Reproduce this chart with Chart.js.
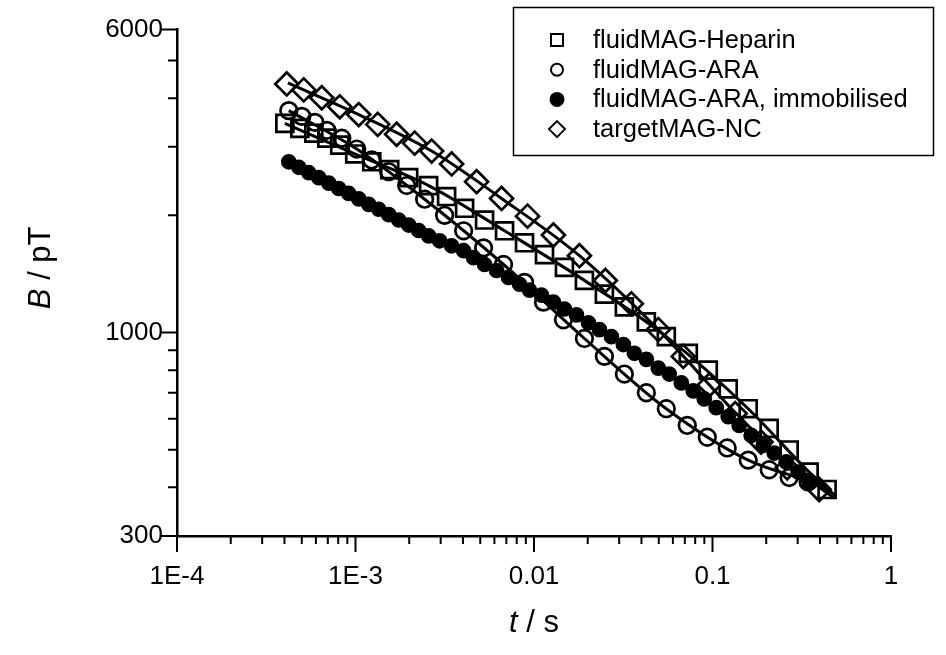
<!DOCTYPE html>
<html>
<head>
<meta charset="utf-8">
<script src="https://cdn.jsdelivr.net/npm/chart.js"></script>
<style>
  html, body { margin: 0; padding: 0; background: #fff; }
  canvas { display: block; }
</style>
</head>
<body>
<canvas id="relaxChart" width="946" height="655"></canvas>
<script>
// Tick positions and labels
const xTickValues = [0.0001, 0.0002, 0.0003, 0.0004, 0.0005, 0.0006, 0.0007, 0.0008, 0.0009,
  0.001, 0.002, 0.003, 0.004, 0.005, 0.006, 0.007, 0.008, 0.009,
  0.01, 0.02, 0.03, 0.04, 0.05, 0.06, 0.07, 0.08, 0.09,
  0.1, 0.2, 0.3, 0.4, 0.5, 0.6, 0.7, 0.8, 0.9, 1];
const xMajorValues = [0.0001, 0.001, 0.01, 0.1, 1];
const xMajorLabels = ['1E-4', '1E-3', '0.01', '0.1', '1'];

const yTickValues = [300, 400, 500, 600, 700, 800, 900, 1000, 2000, 3000, 4000, 5000, 6000];
const yMajorValues = [300, 1000, 6000];
const yMajorLabels = ['300', '1000', '6000'];

// Series names
const seriesNames = ['fluidMAG-Heparin', 'fluidMAG-ARA', 'fluidMAG-ARA, immobilised', 'targetMAG-NC'];

// fluidMAG-Heparin (squares)
const heparinT = [4.02e-4, 4.88e-4, 5.84e-4, 6.91e-4, 8.16e-4, 9.90e-4, 1.233e-3, 1.555e-3, 1.986e-3, 2.569e-3,
  3.239e-3, 4.086e-3, 5.285e-3, 6.84e-3, 8.85e-3, 1.145e-2, 1.481e-2, 1.916e-2, 2.479e-2, 3.208e-2,
  4.26e-2, 5.51e-2, 7.32e-2, 9.47e-2, 0.1225, 0.1585, 0.2077, 0.2688, 0.3478, 0.4385];
const heparinB = [3445, 3345, 3250, 3156, 3030, 2875, 2745, 2620, 2500, 2385,
  2235, 2085, 1945, 1825, 1700, 1585, 1470, 1361, 1255, 1163,
  1065, 976, 884, 800, 716, 637, 567, 499, 438, 395];

// fluidMAG-ARA (open circles)
const araT = [4.23e-4, 5.005e-4, 5.92e-4, 6.91e-4, 8.38e-4, 1.016e-3, 1.233e-3, 1.535e-3, 1.935e-3, 2.44e-3,
  3.157e-3, 4.034e-3, 5.218e-3, 6.75e-3, 8.85e-3, 1.13e-2, 1.462e-2, 1.916e-2, 2.479e-2, 3.208e-2,
  4.26e-2, 5.51e-2, 7.22e-2, 9.35e-2, 0.1209, 0.1585, 0.2077, 0.2688, 0.3433];
const araB = [3715, 3590, 3465, 3305, 3156, 2960, 2775, 2590, 2385, 2200,
  2000, 1825, 1650, 1495, 1345, 1197, 1078, 965, 868, 782,
  700, 637, 577, 538, 505, 470, 444, 424, 413];

// fluidMAG-ARA, immobilised (filled circles)
const immobT = [4.23e-4, 4.815e-4, 5.476e-4, 6.228e-4, 7.085e-4, 8.06e-4, 9.17e-4, 1.043e-3, 1.186e-3, 1.349e-3,
  1.535e-3, 1.746e-3, 1.986e-3, 2.259e-3, 2.569e-3, 2.96e-3, 3.455e-3, 4.034e-3, 4.587e-3, 5.285e-3,
  6.17e-3, 7.2e-3, 8.297e-3, 9.44e-3, 1.101e-2, 1.285e-2, 1.481e-2, 1.729e-2, 2.018e-2, 2.325e-2,
  2.714e-2, 3.167e-2, 3.65e-2, 4.26e-2, 4.97e-2, 5.728e-2, 6.686e-2, 7.8e-2, 8.99e-2, 0.105,
  0.1225, 0.1411, 0.1647, 0.1923, 0.2216, 0.2586, 0.3018, 0.3478];
const immobB = [2745, 2657, 2573, 2500, 2420, 2344, 2276, 2204, 2134, 2073,
  2008, 1945, 1888, 1828, 1771, 1720, 1670, 1622, 1557, 1495,
  1443, 1385, 1330, 1284, 1247, 1197, 1149, 1110, 1059, 1017,
  976, 931, 884, 853, 810, 782, 742, 708, 675, 641,
  608, 577, 544, 513, 490, 465, 438, 411];

// targetMAG-NC (diamonds)
const ncT = [4.12e-4, 5.13e-4, 6.47e-4, 8.16e-4, 1.043e-3, 1.332e-3, 1.70e-3, 2.145e-3, 2.67e-3, 3.455e-3,
  4.77e-3, 6.58e-3, 9.2e-3, 1.285e-2, 1.797e-2, 2.51e-2, 3.51e-2, 4.97e-2, 6.86e-2, 9.59e-2,
  0.134, 0.187, 0.262, 0.396];
const ncB = [4350, 4200, 4010, 3800, 3630, 3425, 3230, 3065, 2925, 2710,
  2440, 2210, 1990, 1780, 1575, 1360, 1185, 1017, 868, 733,
  619, 523, 449, 395];

// Fit curves
const heparinFitT = [4.02e-4, 9.9e-4, 2.569e-3, 6.84e-3, 1.916e-2, 5.51e-2, 0.1585, 0.3478, 0.492];
const heparinFitB = [3445, 2875, 2385, 1825, 1361, 976, 637, 438, 379];
const araFitT = [4.23e-4, 1.016e-3, 2.44e-3, 6.75e-3, 1.916e-2, 5.51e-2, 0.1585, 0.366];
const araFitB = [3715, 2960, 2200, 1495, 965, 637, 470, 413];
const immobFitT = [4.23e-4, 1.986e-3, 7.2e-3, 2.714e-2, 8.99e-2, 0.2586, 0.4616];
const immobFitB = [2745, 1888, 1385, 976, 675, 465, 386];
const ncFitT = [4.18e-4, 1.043e-3, 2.67e-3, 6.58e-3, 1.797e-2, 4.97e-2, 0.134, 0.262, 0.474];
const ncFitB = [4377, 3630, 2925, 2210, 1575, 1017, 623, 462, 377];

const FONT = '"Liberation Sans", Arial, Helvetica, sans-serif';

function toPoints(xs, ys) {
  return xs.map((x, i) => ({ x: x, y: ys[i] }));
}

function markerSet(label, xs, ys, style, radius, filled) {
  return {
    label: label,
    data: toPoints(xs, ys),
    showLine: false,
    pointStyle: style,
    pointRadius: radius,
    pointBorderWidth: 2.7,
    pointBorderColor: '#000',
    pointBackgroundColor: filled ? '#000' : 'rgba(0,0,0,0)',
    order: 2
  };
}

function fitSet(xs, ys) {
  return {
    label: '',
    data: toPoints(xs, ys),
    showLine: true,
    borderColor: '#000',
    borderWidth: 3,
    pointRadius: 0,
    cubicInterpolationMode: 'monotone',
    fill: false,
    order: 1
  };
}

// Axis ticks drawn outward, long for majors and short for minors
const tickMarks = {
  id: 'tickMarks',
  afterDraw(chart) {
    const ctx = chart.ctx;
    const area = chart.chartArea;
    const xs = chart.scales.x, ys = chart.scales.y;
    ctx.save();
    ctx.strokeStyle = '#000';
    ctx.lineWidth = 2;
    ctx.beginPath();
    xTickValues.forEach(v => {
      const px = xs.getPixelForValue(v);
      const len = xMajorValues.indexOf(v) >= 0 ? 16 : 8;
      ctx.moveTo(px, area.bottom);
      ctx.lineTo(px, area.bottom + len);
    });
    yTickValues.forEach(v => {
      const py = ys.getPixelForValue(v);
      const len = yMajorValues.indexOf(v) >= 0 ? 16 : 9;
      ctx.moveTo(area.left, py);
      ctx.lineTo(area.left - len, py);
    });
    ctx.stroke();
    ctx.restore();
  }
};

// Axis titles with italic symbols
const axisTitles = {
  id: 'axisTitles',
  afterDraw(chart) {
    const ctx = chart.ctx;
    const area = chart.chartArea;
    const italic = 'italic 31px ' + FONT;
    const normal = '31px ' + FONT;
    ctx.save();
    ctx.fillStyle = '#000';
    ctx.textBaseline = 'middle';

    // x title
    ctx.font = italic;
    const wT = ctx.measureText('t').width;
    ctx.font = normal;
    const wRest = ctx.measureText(' / s').width;
    let x0 = (area.left + area.right) / 2 - (wT + wRest) / 2;
    ctx.textAlign = 'left';
    ctx.font = italic;
    ctx.fillText('t', x0, 623);
    ctx.font = normal;
    ctx.fillText(' / s', x0 + wT, 623);

    // y title
    ctx.translate(41, (area.top + area.bottom) / 2 - 15);
    ctx.rotate(-Math.PI / 2);
    ctx.font = italic;
    const wB = ctx.measureText('B').width;
    ctx.font = normal;
    const wUnit = ctx.measureText(' / pT').width;
    const y0 = -(wB + wUnit) / 2;
    ctx.font = italic;
    ctx.fillText('B', y0, 0);
    ctx.font = normal;
    ctx.fillText(' / pT', y0 + wB, 0);
    ctx.restore();
  }
};

// Boxed legend in the upper right corner
const boxLegend = {
  id: 'boxLegend',
  afterDraw(chart) {
    const ctx = chart.ctx;
    const styles = ['rect', 'circle', 'circle', 'rectRot'];
    const filled = [false, false, true, false];
    ctx.save();
    ctx.fillStyle = '#fff';
    ctx.fillRect(513, 7, 420, 148);
    ctx.strokeStyle = '#000';
    ctx.lineWidth = 1.5;
    ctx.strokeRect(513.5, 7.5, 420, 148);
    ctx.font = '25.5px ' + FONT;
    ctx.textBaseline = 'middle';
    ctx.textAlign = 'left';
    seriesNames.forEach((name, i) => {
      const cy = 40 + i * 29.7;
      const cx = 557;
      ctx.lineWidth = 2;
      ctx.strokeStyle = '#000';
      ctx.fillStyle = '#000';
      ctx.beginPath();
      if (styles[i] === 'rect') {
        ctx.rect(cx - 6, cy - 6, 12, 12);
      } else if (styles[i] === 'circle') {
        ctx.arc(cx, cy, filled[i] ? 6.5 : 6, 0, Math.PI * 2);
      } else {
        ctx.moveTo(cx, cy - 8);
        ctx.lineTo(cx + 8, cy);
        ctx.lineTo(cx, cy + 8);
        ctx.lineTo(cx - 8, cy);
        ctx.closePath();
      }
      if (filled[i]) ctx.fill();
      ctx.stroke();
      ctx.fillText(name, 593, cy + 1);
    });
    ctx.restore();
  }
};

const ctx = document.getElementById('relaxChart').getContext('2d');
new Chart(ctx, {
  type: 'scatter',
  data: {
    datasets: [
      markerSet(seriesNames[0], heparinT, heparinB, 'rect', 12, false),
      markerSet(seriesNames[1], araT, araB, 'circle', 8.3, false),
      markerSet(seriesNames[2], immobT, immobB, 'circle', 6.5, true),
      markerSet(seriesNames[3], ncT, ncB, 'rectRot', 11.5, false),
      fitSet(heparinFitT, heparinFitB),
      fitSet(araFitT, araFitB),
      fitSet(immobFitT, immobFitB),
      fitSet(ncFitT, ncFitB)
    ]
  },
  options: {
    responsive: false,
    animation: false,
    devicePixelRatio: 1,
    layout: { padding: { left: 0, top: 25, right: 55, bottom: 0 } },
    plugins: {
      legend: { display: false },
      tooltip: { enabled: false }
    },
    scales: {
      x: {
        type: 'logarithmic',
        min: 0.0001,
        max: 1,
        afterBuildTicks: scale => { scale.ticks = xTickValues.map(v => ({ value: v })); },
        afterFit: scale => { scale.height = 119; },
        grid: { display: false, drawTicks: false },
        border: { display: true, color: '#000', width: 2.5 },
        ticks: {
          autoSkip: false,
          maxRotation: 0,
          padding: 25,
          color: '#000',
          font: { family: FONT, size: 26 },
          callback: value => {
            const i = xMajorValues.indexOf(value);
            return i >= 0 ? xMajorLabels[i] : '';
          }
        }
      },
      y: {
        type: 'logarithmic',
        min: 300,
        max: 6000,
        afterBuildTicks: scale => { scale.ticks = yTickValues.map(v => ({ value: v })); },
        afterFit: scale => { scale.width = 177; },
        grid: { display: false, drawTicks: false },
        border: { display: true, color: '#000', width: 2.5 },
        ticks: {
          autoSkip: false,
          padding: 14,
          color: '#000',
          font: { family: FONT, size: 26 },
          callback: value => {
            const i = yMajorValues.indexOf(value);
            return i >= 0 ? yMajorLabels[i] : '';
          }
        }
      }
    }
  },
  plugins: [tickMarks, axisTitles, boxLegend]
});
</script>
</body>
</html>
